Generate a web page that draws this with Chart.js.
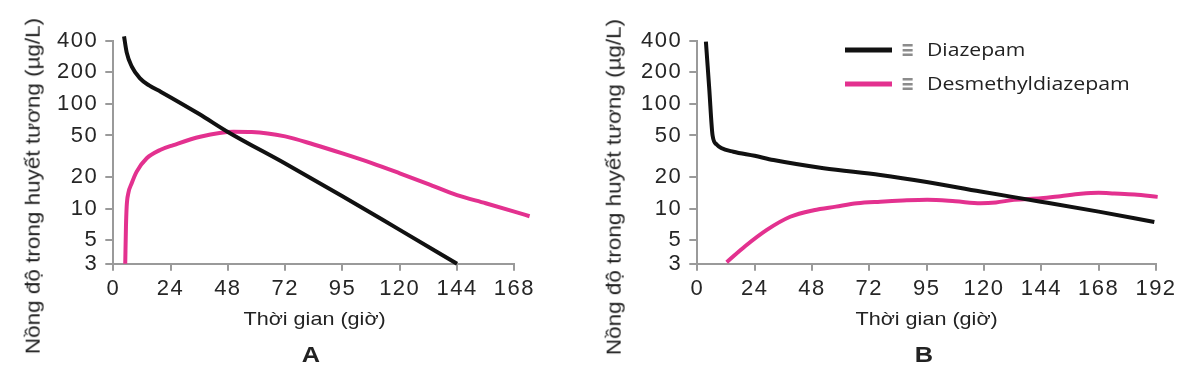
<!DOCTYPE html>
<html>
<head>
<meta charset="utf-8">
<script src="https://cdn.jsdelivr.net/npm/chart.js@4.4.1/dist/chart.umd.min.js"></script>
<style>
  html, body { margin: 0; padding: 0; background: #fff; }
  #wrap { position: relative; width: 1200px; height: 384px; overflow: hidden; }
  .panel { position: absolute; top: 0; width: 600px; height: 384px; }
  .txt { position: absolute; white-space: nowrap; color: #222; }
</style>
</head>
<body>
<div id="wrap">
  <div class="panel" style="left:0"><canvas id="chartA" width="600" height="384"></canvas></div>
  <div class="panel" style="left:600px"><canvas id="chartB" width="600" height="384"></canvas></div>
</div>
<script>
// tick values / labels
const yTicks = [3, 5, 10, 20, 50, 100, 200, 400];
const xTicksA = [0, 24, 48, 72, 96, 120, 144, 168];
const xLabelsA = ['0', '24', '48', '72', '95', '120', '144', '168'];
const xTicksB = [0, 24, 48, 72, 96, 120, 144, 168, 192];
const xLabelsB = ['0', '24', '48', '72', '95', '120', '144', '168', '192'];

// panel A - diazepam (hours, µg/L)
const timeDiazA = [4.5, 5.6, 7.7, 11.2, 15, 20, 36, 48, 72, 96, 120, 144];
const diazA = [440, 310, 228, 175, 150, 130, 80, 54, 27, 13.2, 6.3, 3];
// panel A - desmethyldiazepam
const timeDesA = [5, 5.3, 5.6, 6.3, 7.7, 9.8, 14, 19.6, 25.2, 36.4, 50.4, 58, 72, 84, 96, 108, 120, 132, 144, 156, 168, 174.4];
const desA = [3, 6.7, 10.5, 14.1, 17.5, 22.6, 30.3, 36.4, 40.5, 48.6, 54.3, 54, 49, 41, 33.7, 27.4, 21.8, 17.2, 13.5, 11.3, 9.4, 8.5];

// panel B - diazepam
const timeDiazB = [3.6, 5, 6.4, 8.1, 10, 15.1, 24, 31.9, 52.9, 76.6, 96, 118.6, 143.8, 168, 191.3];
const diazB = [392, 140, 50, 41, 38, 35, 32, 29.2, 24.4, 21, 18, 14.6, 11.7, 9.4, 7.5];
// panel B - desmethyldiazepam
const timeDesB = [12.3, 20, 29.1, 38.9, 48.7, 58, 66.9, 76.6, 86, 96.2, 108, 118.6, 125, 132.5, 143.8, 152, 160.5, 168, 174.5, 183, 192.7];
const desB = [3.1, 4.4, 6.3, 8.4, 9.7, 10.5, 11.3, 11.7, 12, 12.2, 11.8, 11.3, 11.5, 12.2, 12.6, 13.2, 13.9, 14.2, 14, 13.7, 13];

const seriesNames = ['Diazepam', 'Desmethyldiazepam'];

const BLACK = '#111111';
const PINK = '#e3318f';
const AXIS = '#9a9a9a';
const TICK = '#262626';

const toPoints = (xs, ys) => xs.map((x, i) => ({ x: x, y: ys[i] }));

function line(label, xs, ys, color) {
  return {
    label: label,
    data: toPoints(xs, ys),
    borderColor: color,
    backgroundColor: color,
    borderWidth: 4,
    borderCapStyle: 'butt',
    pointRadius: 0,
    cubicInterpolationMode: 'monotone',
    clip: false
  };
}

// wider tick lettering like the original
const spacing = {
  id: 'spacing',
  beforeDraw(chart) { chart.ctx.letterSpacing = '1.5px'; }
};

// line samples of the legend in panel B
const legendLines = {
  id: 'legendLines',
  afterDraw(chart) {
    const ctx = chart.ctx;
    const rows = [50, 84];
    ctx.save();
    ctx.lineWidth = 5;
    ctx.lineCap = 'butt';
    chart.data.datasets.forEach((ds, i) => {
      ctx.strokeStyle = ds.borderColor;
      ctx.beginPath();
      ctx.moveTo(245, rows[i]);
      ctx.lineTo(292, rows[i]);
      ctx.stroke();
    });
    ctx.restore();
  }
};

function options(xMax, xTicks, xLabels, yWidth, padRight) {
  const tickFont = { family: '"Liberation Sans", Arial, sans-serif', size: 22 };
  return {
    responsive: false,
    animation: false,
    layout: { padding: { top: 40.7, right: padRight, bottom: 0, left: 0 } },
    plugins: { legend: { display: false }, tooltip: { enabled: false } },
    scales: {
      x: {
        type: 'linear',
        // range fixed here (not as min/max options) so the lines may run a little past the axis end
        afterBuildTicks: (s) => {
          s.min = 0;
          s.max = xMax;
          s.ticks = xTicks.map((v) => ({ value: v }));
        },
        afterFit: (s) => { s.height = 120.3; },
        grid: { drawOnChartArea: false, drawTicks: true, tickLength: 7, color: AXIS, lineWidth: 2 },
        border: { color: AXIS, width: 2 },
        ticks: {
          autoSkip: false, maxRotation: 0, padding: 5, color: TICK, font: tickFont,
          callback: (v, i) => xLabels[i]
        }
      },
      y: {
        type: 'logarithmic',
        min: 3,
        max: 400,
        afterBuildTicks: (s) => { s.ticks = yTicks.map((v) => ({ value: v })); },
        afterFit: (s) => { s.width = yWidth; },
        grid: { drawOnChartArea: false, drawTicks: true, tickLength: 8, color: AXIS, lineWidth: 2 },
        border: { color: AXIS, width: 2 },
        ticks: {
          autoSkip: false, padding: 7, color: TICK, font: tickFont,
          callback: (v) => String(v)
        }
      }
    }
  };
}

new Chart(document.getElementById('chartA'), {
  type: 'line',
  data: {
    datasets: [
      line(seriesNames[0], timeDiazA, diazA, BLACK),
      line(seriesNames[1], timeDesA, desA, PINK)
    ]
  },
  options: options(168, xTicksA, xLabelsA, 113.3, 85.7),
  plugins: [spacing]
});

new Chart(document.getElementById('chartB'), {
  type: 'line',
  data: {
    datasets: [
      line(seriesNames[0], timeDiazB, diazB, BLACK),
      line(seriesNames[1], timeDesB, desB, PINK)
    ]
  },
  options: options(192, xTicksB, xLabelsB, 97.3, 44),
  plugins: [spacing, legendLines]
});

// html labels (titles, panel letters, legend text)
const wrap = document.getElementById('wrap');
const LIB = '"Liberation Sans", Arial, sans-serif';

function addText(str, o) {
  const el = document.createElement('span');
  el.className = 'txt';
  el.textContent = str;
  el.style.fontFamily = o.family || LIB;
  el.style.fontSize = o.size + 'px';
  el.style.lineHeight = o.size + 'px';
  if (o.bold) el.style.fontWeight = 'bold';
  if (o.color) el.style.color = o.color;
  wrap.appendChild(el);
  const w = el.offsetWidth;
  const h = el.offsetHeight;
  const k = o.width ? o.width / w : (o.scale || 1);
  if (o.rotate) {
    el.style.left = (o.cx - w / 2) + 'px';
    el.style.top = (o.cy - h / 2) + 'px';
    el.style.transformOrigin = '50% 50%';
    el.style.transform = 'rotate(-90deg) scaleX(' + k + ')';
  } else {
    const base = o.size * (o.ratio || 0.8465);
    const left = o.left !== undefined ? o.left : o.cx - w / 2;
    el.style.left = left + 'px';
    el.style.top = (o.baseline - base) + 'px';
    el.style.transformOrigin = o.left !== undefined ? '0 50%' : '50% 50%';
    el.style.transform = 'scaleX(' + k + ')';
  }
}

const yTitle = 'Nồng độ trong huyết tương (µg/L)';
const xTitle = 'Thời gian (giờ)';

addText(yTitle, { size: 20, rotate: true, cx: 32.4, cy: 186, width: 336 });
addText(yTitle, { size: 20, rotate: true, cx: 613, cy: 187, width: 336 });
addText(xTitle, { size: 19, cx: 314, baseline: 325, width: 142 });
addText(xTitle, { size: 19, cx: 926, baseline: 325, width: 142 });
addText('A', { size: 22, bold: true, cx: 311, baseline: 363, scale: 1.15 });
addText('B', { size: 22, bold: true, cx: 924, baseline: 363, scale: 1.15 });

const OPEN = '"Open Sans", "Noto Sans", sans-serif';
addText('≡', { family: '"DejaVu Sans", sans-serif', size: 22, bold: true, color: '#8c8c8c', left: 901, baseline: 57.5, width: 13, ratio: 0.846 });
addText('≡', { family: '"DejaVu Sans", sans-serif', size: 22, bold: true, color: '#8c8c8c', left: 901, baseline: 91.5, width: 13, ratio: 0.846 });
addText(seriesNames[0], { family: OPEN, size: 19, left: 927, baseline: 56.7, width: 99, ratio: 0.888 });
addText(seriesNames[1], { family: OPEN, size: 19, left: 927, baseline: 91, width: 203, ratio: 0.888 });
</script>
</body>
</html>
